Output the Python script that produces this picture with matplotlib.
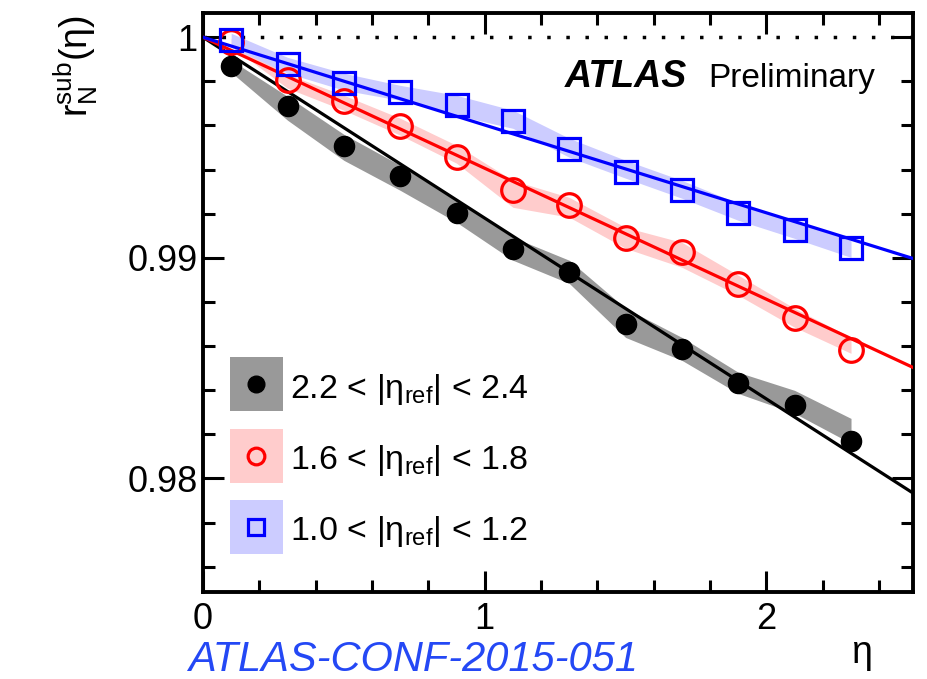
import numpy as np
import matplotlib
matplotlib.use('Agg')
import matplotlib.pyplot as plt
from matplotlib.patches import Rectangle
from matplotlib.ticker import MultipleLocator, FuncFormatter

plt.rcParams['font.family'] = ['Liberation Sans', 'DejaVu Sans']
plt.rcParams['mathtext.fontset'] = 'custom'
plt.rcParams['mathtext.rm'] = 'Liberation Sans'
plt.rcParams['mathtext.default'] = 'regular'

# ---------------------------------- data ----------------------------------
eta = [0.1, 0.3, 0.5, 0.7, 0.9, 1.1, 1.3, 1.5, 1.7, 1.9, 2.1, 2.3]

# 2.2 < |eta_ref| < 2.4
r_black = [0.99868, 0.99687, 0.99506, 0.99370, 0.99202, 0.99039,
           0.98934, 0.98698, 0.98585, 0.98431, 0.98331, 0.98168]
band_black_hi = [0.99896, 0.99732, 0.99560, 0.99420, 0.99261, 0.99093,
                 0.98989, 0.98771, 0.98639, 0.98481, 0.98399, 0.98272]
band_black_lo = [0.99841, 0.99624, 0.99442, 0.99306, 0.99161, 0.98989,
                 0.98884, 0.98639, 0.98535, 0.98385, 0.98295, 0.98159]

# 1.6 < |eta_ref| < 1.8
r_red = [0.99977, 0.99805, 0.99710, 0.99596, 0.99456, 0.99306,
         0.99238, 0.99088, 0.99025, 0.98880, 0.98726, 0.98580]
band_red_hi = [0.99995, 0.99832, 0.99737, 0.99633, 0.99510, 0.99351,
               0.99274, 0.99138, 0.99070, 0.98921, 0.98771, 0.98639]
band_red_lo = [0.99959, 0.99769, 0.99669, 0.99556, 0.99429, 0.99229,
               0.99184, 0.99043, 0.98957, 0.98830, 0.98685, 0.98567]

# 1.0 < |eta_ref| < 1.2
r_blue = [0.99986, 0.99878, 0.99791, 0.99751, 0.99692, 0.99619,
          0.99492, 0.99388, 0.99306, 0.99202, 0.99125, 0.99043]
band_blue_hi = [1.00018, 0.99909, 0.99837, 0.99782, 0.99737, 0.99669,
                0.99542, 0.99442, 0.99351, 0.99247, 0.99170, 0.99079]
band_blue_lo = [0.99955, 0.99837, 0.99760, 0.99714, 0.99646, 0.99587,
                0.99456, 0.99361, 0.99270, 0.99170, 0.99088, 0.99002]

# fit slopes: r = 1 - a*eta
slope_black = 0.0082
slope_red = 0.00594
slope_blue = 0.00398

labels = ['2.2 < |η$_{ref}$| < 2.4', '1.6 < |η$_{ref}$| < 1.8', '1.0 < |η$_{ref}$| < 1.2']

# ---------------------------------- plot ----------------------------------
fig = plt.figure(figsize=(9.27, 6.79), dpi=100)
ax = fig.add_axes([203/927, 1-592/679, 710/927, 579/679])

ax.fill_between(eta, band_black_lo, band_black_hi, color='#999999', lw=0, zorder=1)
ax.fill_between(eta, band_red_lo, band_red_hi, color='#ffcccc', lw=0, zorder=1)
ax.fill_between(eta, band_blue_lo, band_blue_hi, color='#ccccff', lw=0, zorder=1)

ax.axhline(1.0, color='black', lw=2.5, ls=(0, (1, 4.5)), zorder=2)

x_fit = np.linspace(0, 2.6, 50)
ax.plot(x_fit, 1 - slope_black*x_fit, color='black', lw=2.3, zorder=3)
ax.plot(x_fit, 1 - slope_red*x_fit, color='red', lw=2.3, zorder=3)
ax.plot(x_fit, 1 - slope_blue*x_fit, color='blue', lw=2.3, zorder=3)

ax.plot(eta, r_black, 'o', color='black', ms=14.5, zorder=4)
ax.plot(eta, r_red, 'o', mfc='none', mec='red', mew=2.3, ms=17, zorder=4)
ax.plot(eta, r_blue, 's', mfc='none', mec='blue', mew=2.3, ms=16, zorder=4)

ax.set_xlim(0, 2.52)
ax.set_ylim(0.97485, 1.0011)

ax.xaxis.set_major_locator(MultipleLocator(1))
ax.xaxis.set_minor_locator(MultipleLocator(0.2))
ax.yaxis.set_major_locator(MultipleLocator(0.01))
ax.yaxis.set_minor_locator(MultipleLocator(0.002))
ax.yaxis.set_major_formatter(FuncFormatter(lambda v, p: '%g' % round(v, 4)))
ax.tick_params(which='both', direction='in', top=True, right=True, width=2.2,
               labelsize=26)
ax.tick_params(which='major', length=15)
ax.tick_params(which='minor', length=8.5)
ax.tick_params(axis='x', pad=7)
ax.tick_params(axis='y', pad=4)
for s in ax.spines.values():
    s.set_linewidth(2.8)

# legend drawn by hand
box_colors = ['#999999', '#ffcccc', '#ccccff']
box_bottoms = [0.3126, 0.188, 0.0655]
text_y = [0.335, 0.2124, 0.0898]
for i in range(3):
    ax.add_patch(Rectangle((0.038, box_bottoms[i]), 0.0746, 0.0933, transform=ax.transAxes,
                           facecolor=box_colors[i], edgecolor='none', zorder=5))
    ax.text(0.1225, text_y[i], labels[i], transform=ax.transAxes, fontsize=24.5,
            va='baseline', ha='left', zorder=6)
mx, my = 0.0753, [0.3593, 0.2347, 0.112]
ax.plot(mx, my[0], 'o', color='black', ms=12, transform=ax.transAxes, zorder=6)
ax.plot(mx, my[1], 'o', mfc='none', mec='red', mew=2.3, ms=12, transform=ax.transAxes, zorder=6)
ax.plot(mx, my[2], 's', mfc='none', mec='blue', mew=2.3, ms=12, transform=ax.transAxes, zorder=6)

ax.text(0.51, 0.872, 'ATLAS', transform=ax.transAxes, fontsize=27,
        fontweight='bold', style='italic', va='baseline')
ax.text(0.711, 0.872, 'Preliminary', transform=ax.transAxes, fontsize=24, va='baseline')

fig.text(0.082, 0.978, 'r$^{sub}_{N}$(η)', rotation=90, fontsize=27, ha='center', va='top')
fig.text(861/927, 1-663/679, 'η', fontsize=27, ha='center', va='baseline')
fig.text(188/927, 1-671/679, 'ATLAS-CONF-2015-051', fontsize=30, style='italic',
         color='#2448f5', va='baseline')

fig.savefig('out.png', dpi=100)
